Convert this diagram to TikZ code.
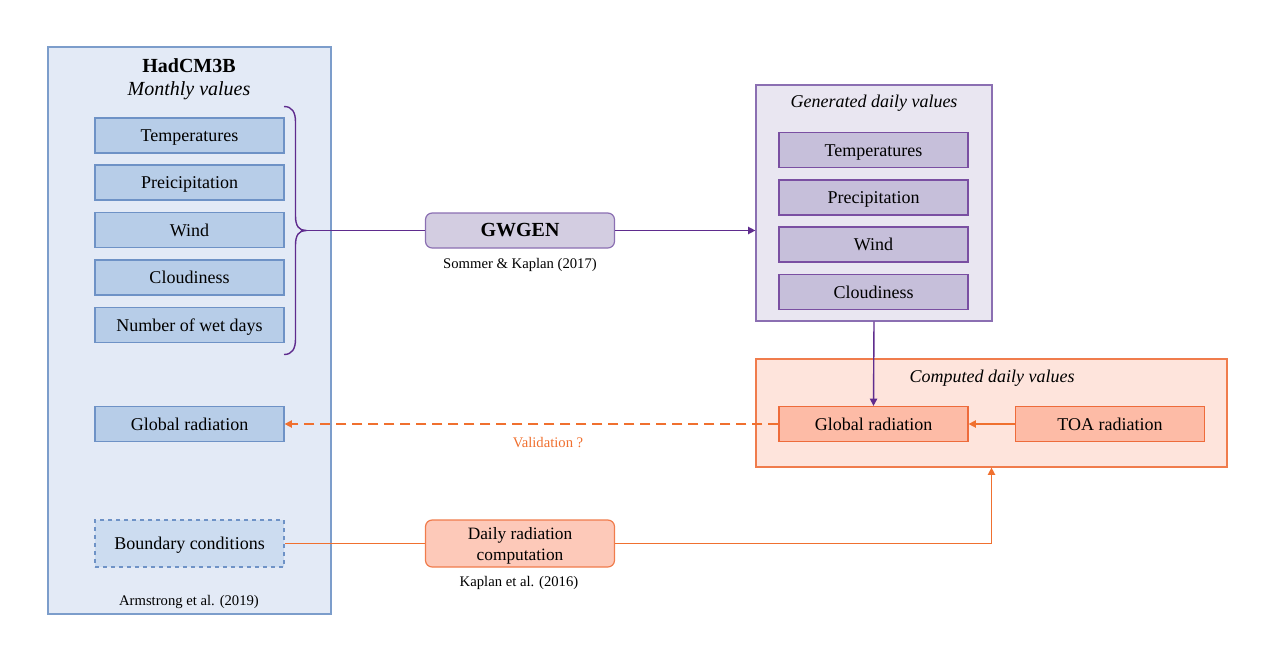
\documentclass[tikz,border=0pt]{standalone}
\usepackage{fontspec}
\setmainfont{Liberation Serif}
\usetikzlibrary{arrows.meta}
\definecolor{lbfill}{HTML}{E3EAF6}
\definecolor{lbdraw}{HTML}{7C9DCB}
\definecolor{bfill}{HTML}{B7CDE8}
\definecolor{bdraw}{HTML}{6E92C6}
\definecolor{bcfill}{HTML}{CCDCF0}
\definecolor{pfill}{HTML}{E9E6F1}
\definecolor{pdraw}{HTML}{8B6FB2}
\definecolor{pbfill}{HTML}{C6BFDA}
\definecolor{pbdraw}{HTML}{7A4FA2}
\definecolor{gwfill}{HTML}{D3CDE1}
\definecolor{pline}{HTML}{5F2C8E}
\definecolor{ofill}{HTML}{FEE4DC}
\definecolor{odraw}{HTML}{F07C4C}
\definecolor{obfill}{HTML}{FDBBA6}
\definecolor{obdraw}{HTML}{EE6B3B}
\definecolor{drfill}{HTML}{FDC9B9}
\definecolor{oline}{HTML}{F0702F}
\begin{document}
\begin{tikzpicture}[x=0.75pt,y=-0.75pt,
  txt/.style={font=\fontsize{13.5}{15.5}\selectfont},
  small/.style={font=\fontsize{11}{12}\selectfont, inner sep=0pt},
  box/.style={txt, inner sep=0pt, minimum width={189*0.75pt}, minimum height={35*0.75pt}, line width=0.9pt, align=center, text height=0.95em, text depth=0.05em},
  bluebox/.style={box, draw=bdraw, fill=bfill},
  purplebox/.style={box, draw=pbdraw, fill=pbfill},
  orangebox/.style={box, draw=obdraw, fill=obfill},
  container/.style={inner sep=0pt, line width=0.9pt},
  plink/.style={draw=pline, line width=1.05pt},
  olink/.style={draw=oline, line width=1.05pt},
  tip/.style={-{Triangle[length=5.5pt,width=5.5pt]}}
]
\useasboundingbox (0,0) rectangle (1275,661);
% containers
\node[container, draw=lbdraw, fill=lbfill, minimum width={283*0.75pt}, minimum height={567*0.75pt}] (left) at (189.5,330.5) {};
\node[container, draw=pdraw, fill=pfill, minimum width={236*0.75pt}, minimum height={236*0.75pt}] (gen) at (874,203) {};
\node[container, draw=odraw, fill=ofill, minimum width={471*0.75pt}, minimum height={108*0.75pt}] (comp) at (991.5,413) {};
% titles
\node[font=\fontsize{15}{17}\selectfont\bfseries] (had) at (189,66) {HadCM3B};
\node[font=\fontsize{15}{17}\selectfont\itshape] (monthly) at (189,90.5) {Monthly values};
\node[font=\fontsize{13.5}{15}\selectfont\itshape] (gentitle) at (874,103.5) {Generated daily values};
\node[font=\fontsize{13.5}{15}\selectfont\itshape] (comptitle) at (992,378) {Computed daily values};
% left boxes
\node[bluebox] (temp) at (189.5,135.5) {Temperatures};
\node[bluebox] (prec) at (189.5,182.5) {Preicipitation};
\node[bluebox] (wind) at (189.5,230) {Wind};
\node[bluebox] (cloud) at (189.5,277.5) {Cloudiness};
\node[bluebox] (wet) at (189.5,325) {Number of wet days};
\node[bluebox] (glob) at (189.5,424) {Global radiation};
\node[box, draw=bdraw, fill=bcfill, dashed, minimum height={47*0.75pt}] (bound) at (189.5,543.5) {Boundary conditions};
\node[small] (arm) at (189,602) {Armstrong et al. (2019)};
% generated boxes
\node[purplebox] (gtemp) at (873.5,150) {Temperatures};
\node[purplebox] (gprec) at (873.5,197.5) {Precipitation};
\node[purplebox] (gwind) at (873.5,244.5) {Wind};
\node[purplebox] (gcloud) at (873.5,292) {Cloudiness};
% computed boxes
\node[orangebox] (cglob) at (873.5,424) {Global radiation};
\node[orangebox] (toa) at (1110,424) {TOA radiation};
% process nodes
\node[box, rounded corners=5pt, draw=pdraw, fill=gwfill, font=\fontsize{15}{16}\selectfont\bfseries] (gwgen) at (520,230.5) {GWGEN};
\node[small] (sommer) at (520,265) {Sommer \& Kaplan (2017)};
\node[box, rounded corners=5pt, draw=odraw, fill=drfill, minimum height={47*0.75pt}, text height={}, text depth={}, font=\fontsize{13}{15.5}\selectfont] (drc) at (520,543.5)
  {\raisebox{-2pt}[\height][\depth]{\begin{tabular}{@{}c@{}}Daily radiation\\computation\end{tabular}}};
\node[small] (kap) at (519,583) {Kaplan et al. (2016)};
\node[small, text=oline] (valid) at (548,442.5) {Validation ?};
% brace
\coordinate (bracetip) at (306,230.5);
\draw[plink] (284,106.5) .. controls (292,106.5) and (295.5,112) .. (295.5,122) -- (295.5,216) .. controls (295.5,226) and (299,230.5) .. (bracetip)
  .. controls (299,230.5) and (295.5,235) .. (295.5,245) -- (295.5,339) .. controls (295.5,349) and (292,354.5) .. (284,354.5);
% connectors
\draw[plink] (bracetip) -- (gwgen.west);
\draw[plink, tip] (gwgen.east) -- (gen.west |- gwgen.east);
\draw[plink, tip] (gen.south) -- (cglob.north);
\draw[olink, tip] (toa.west) -- (cglob.east);
\draw[olink, dashed, dash pattern=on 7.5pt off 4.5pt, tip] (cglob.west) -- (glob.east);
\draw[olink] (bound.east) -- (drc.west);
\draw[olink, tip] (drc.east) -| (comp.south);
\end{tikzpicture}
\end{document}
